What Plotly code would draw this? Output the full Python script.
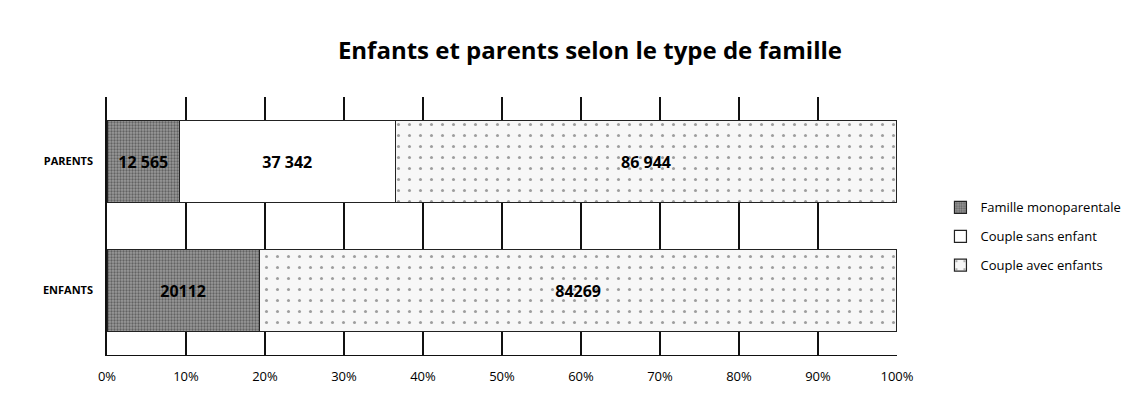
import plotly.graph_objects as go

categories = ["PARENTS", "ENFANTS"]
series_names = ["Famille monoparentale", "Couple sans enfant", "Couple avec enfants"]
famille_mono = [12565, 20112]
couple_sans = [37342, 0]
couple_avec = [86944, 84269]
value_labels = [
    ["12 565", "20112"],
    ["37 342", ""],
    ["86 944", "84269"],
]
tick_vals = [0, 10, 20, 30, 40, 50, 60, 70, 80, 90, 100]
tick_text = ["0%", "10%", "20%", "30%", "40%", "50%", "60%", "70%", "80%", "90%", "100%"]

series = [famille_mono, couple_sans, couple_avec]
totals = [sum(s[i] for s in series) for i in range(len(categories))]
pct = [[v / t * 100 for v, t in zip(s, totals)] for s in series]

styles = [
    dict(color="#8a8a8a", pattern=dict(shape=".", fgcolor="#2a2a2a", bgcolor="#9a9a9a", size=3, solidity=0.45)),
    dict(color="white"),
    dict(color="#f6f6f6", pattern=dict(shape=".", fgcolor="#444444", bgcolor="#f7f7f7", size=11, solidity=0.06)),
]

fig = go.Figure()
for name, p, lab, st in zip(series_names, pct, value_labels, styles):
    fig.add_trace(go.Bar(
        y=categories, x=p, name=name, orientation="h",
        text=["<b>%s</b>" % t if t else "" for t in lab],
        textposition="inside", insidetextanchor="middle",
        textfont=dict(family="Open Sans", size=16, color="black"),
        marker=dict(line=dict(color="#222222", width=1.2), **st),
        legendgroup=name, hoverinfo="skip",
    ))

fig.update_layout(
    barmode="stack",
    bargap=0.37,
    width=1130, height=394,
    margin=dict(l=99, r=241, t=89, b=47),
    paper_bgcolor="white", plot_bgcolor="white",
    title=dict(text="<b>Enfants et parents selon le type de famille</b>",
               x=0.515, xanchor="center", y=0.893, yanchor="middle",
               font=dict(family="Open Sans", size=24, color="black")),
    legend=dict(x=1.055, y=0.63, xanchor="left", yanchor="top",
                traceorder="grouped", tracegroupgap=9, itemwidth=30,
                font=dict(family="Open Sans", size=13, color="black")),
    font=dict(family="Open Sans", color="black"),
)
fig.update_xaxes(range=[0, 100], tickvals=tick_vals, ticktext=tick_text,
                 showgrid=True, gridcolor="#111111", gridwidth=1.5,
                 showline=True, linecolor="#111111", linewidth=1.2,
                 zeroline=False, ticks="", ticklen=0, ticklabelstandoff=9,
                 tickfont=dict(family="Open Sans", size=13, color="black"))
fig.update_yaxes(categoryorder="array", categoryarray=categories[::-1],
                 showline=True, linecolor="#111111", linewidth=1.5,
                 showgrid=False, ticks="", ticklabelstandoff=10,
                 tickfont=dict(family="Open Sans", size=11, color="black"))
fig.for_each_yaxis(lambda a: a.update(ticktext=["<b>PARENTS</b>", "<b>ENFANTS</b>"][::-1],
                                      tickvals=categories[::-1]))

fig.write_html("out.html")
